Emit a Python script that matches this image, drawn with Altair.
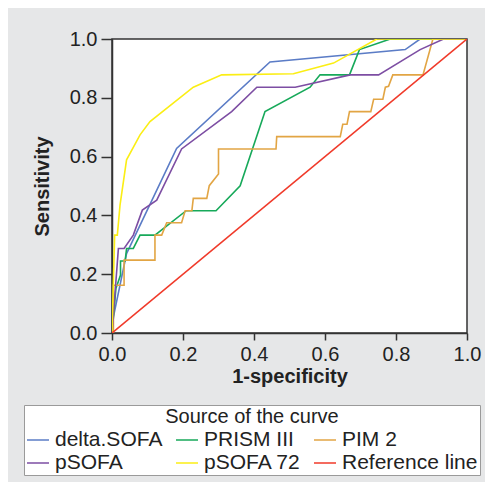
import altair as alt
import pandas as pd

series_names = ["delta.SOFA", "PRISM III", "PIM 2", "pSOFA", "pSOFA 72", "Reference line"]
series_colors = ["#5b7cc6", "#17a95a", "#e2a544", "#7d4ea3", "#fbee14", "#f03a2a"]

delta_x = [0, 0.004, 0.041, 0.182, 0.445, 0.826, 0.868, 1.0]
delta_y = [0, 0.055, 0.27, 0.628, 0.922, 0.964, 1.0, 1.0]

prism_x = [0, 0.011, 0.024, 0.024, 0.037, 0.041, 0.060, 0.079, 0.121, 0.209, 0.293,
           0.361, 0.431, 0.558, 0.586, 0.669, 0.697, 0.784, 1.0]
prism_y = [0, 0.151, 0.197, 0.245, 0.245, 0.2875, 0.2875, 0.333, 0.333, 0.416, 0.416,
           0.501, 0.753, 0.836, 0.878, 0.878, 0.964, 1.0, 1.0]

pim_x = [0, 0.004, 0.004, 0.034, 0.034, 0.121, 0.121, 0.140, 0.154, 0.196, 0.206, 0.225,
         0.229, 0.267, 0.274, 0.300, 0.300, 0.462, 0.464, 0.643, 0.650, 0.662, 0.669,
         0.729, 0.737, 0.763, 0.770, 0.779, 0.791, 0.876, 0.904, 1.0]
pim_y = [0, 0.0, 0.1625, 0.1625, 0.248, 0.248, 0.333, 0.333, 0.375, 0.375, 0.416, 0.416,
         0.458, 0.458, 0.501, 0.541, 0.626, 0.626, 0.668, 0.668, 0.710, 0.710, 0.753,
         0.753, 0.795, 0.795, 0.836, 0.839, 0.878, 0.878, 1.0, 1.0]

psofa_x = [0, 0.018, 0.034, 0.060, 0.0855, 0.126, 0.196, 0.337, 0.408, 0.516, 0.671,
           0.751, 0.868, 0.934, 1.0]
psofa_y = [0, 0.2875, 0.2875, 0.333, 0.418, 0.452, 0.626, 0.753, 0.836, 0.836, 0.878,
           0.878, 0.964, 1.0, 1.0]

psofa72_x = [0, 0.0075, 0.015, 0.0226, 0.041, 0.079, 0.107, 0.229, 0.309, 0.511, 0.624, 0.746, 1.0]
psofa72_y = [0, 0.333, 0.333, 0.435, 0.589, 0.674, 0.719, 0.836, 0.878, 0.882, 0.918, 1.0, 1.0]

ref_x = [0, 1.0]
ref_y = [0, 1.0]

axis_ticks = [0.0, 0.2, 0.4, 0.6, 0.8, 1.0]

rows = []
for name, xs, ys in [
    ("delta.SOFA", delta_x, delta_y),
    ("PRISM III", prism_x, prism_y),
    ("PIM 2", pim_x, pim_y),
    ("pSOFA", psofa_x, psofa_y),
    ("pSOFA 72", psofa72_x, psofa72_y),
    ("Reference line", ref_x, ref_y),
]:
    for i, (a, b) in enumerate(zip(xs, ys)):
        rows.append({"curve": name, "fpr": a, "tpr": b, "idx": i})
df = pd.DataFrame(rows)

chart = alt.Chart(df).mark_line(strokeWidth=1.6, clip=True).encode(
    x=alt.X("fpr:Q", title="1-specificity",
            scale=alt.Scale(domain=[0, 1], nice=False),
            axis=alt.Axis(values=axis_ticks, format=".1f", tickSize=7,
                          labelPadding=4, titlePadding=2, labelFlush=False)),
    y=alt.Y("tpr:Q", title="Sensitivity",
            scale=alt.Scale(domain=[0, 1], nice=False),
            axis=alt.Axis(values=axis_ticks, format=".1f", tickSize=11,
                          labelPadding=4, titlePadding=17, labelFlush=False)),
    color=alt.Color("curve:N", title="Source of the curve",
                    scale=alt.Scale(domain=series_names, range=series_colors),
                    sort=series_names,
                    legend=alt.Legend(orient="none", legendX=-88, legendY=366,
                                      direction="horizontal",
                                      columns=3, symbolType="stroke", symbolSize=484,
                                      symbolStrokeWidth=1.5, labelFontSize=21,
                                      titleFontSize=20, titleFontWeight="normal",
                                      fillColor="white", strokeColor="#9a9a9a",
                                      padding=2, columnPadding=10, rowPadding=1,
                                      titleAnchor="middle", labelLimit=300, titleLimit=450,
                                      gridAlign="each", titlePadding=1, labelOffset=5,
                                      labelColor="#222", titleColor="#222")),
    order="idx:Q",
).properties(
    width=355, height=294,
    autosize=alt.AutoSizeParams(type="none"),
    padding={"left": 104, "top": 31, "right": 18, "bottom": 149},
    background="#e6e7e8",
).configure(
    font="Liberation Sans",
).configure_view(
    stroke="#333333", strokeWidth=1.5, fill="white",
).configure_axis(
    grid=False, domainColor="#333333", tickColor="#333333", domainWidth=1.5,
    tickWidth=1.5, labelFontSize=20, titleFontSize=20, titleFontWeight="bold",
    labelColor="#222", titleColor="#222", labelFont="Liberation Sans",
    titleFont="Liberation Sans",
)

chart.save("out.html", embed_options={"renderer": "svg", "actions": False})
